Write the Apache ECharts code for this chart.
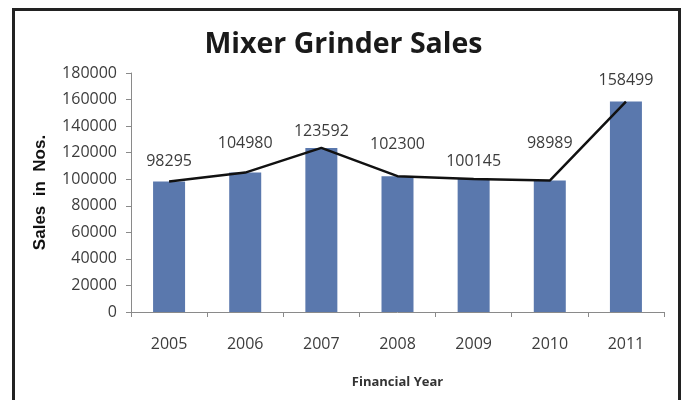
<!DOCTYPE html>
<html>
<head>
<meta charset="utf-8">
<script src="https://cdn.jsdelivr.net/npm/echarts@6/dist/echarts.min.js"></script>
<style>
  html, body { margin: 0; padding: 0; background: #fff; }
  #chart { width: 687px; height: 400px; }
</style>
</head>
<body>
<div id="chart"></div>
<script>
// Mixer grinder units sold per financial year
const years = ['2005', '2006', '2007', '2008', '2009', '2010', '2011'];
const sales = [98295, 104980, 123592, 102300, 100145, 98989, 158499];
const yTicks = [0, 20000, 40000, 60000, 80000, 100000, 120000, 140000, 160000, 180000];

// gap between each value label and its bar top, staggered so labels don't collide
const labelGaps = [12, 21, 8, 24, 10, 29, 13];

const tickFont = '"Open Sans", sans-serif';
const chart = echarts.init(document.getElementById('chart'), null, { renderer: 'canvas' });

chart.setOption({
  backgroundColor: '#ffffff',
  animation: false,
  title: {
    text: 'Mixer Grinder Sales',
    left: 'center',
    top: 25,
    textStyle: { fontFamily: '"Open Sans", sans-serif', fontWeight: 'bold', fontSize: 28.5, color: '#1a1a1a' }
  },
  graphic: [{
    type: 'rect',
    shape: { x: 13.5, y: 9.5, width: 666, height: 420 },
    style: { fill: 'none', stroke: '#222222', lineWidth: 3 },
    silent: true
  }],
  grid: { left: 131, right: 23, top: 73, bottom: 88, containLabel: false },
  xAxis: {
    type: 'category',
    data: years,
    boundaryGap: true,
    name: 'Financial Year',
    nameLocation: 'middle',
    nameGap: 64,
    nameTextStyle: { fontFamily: '"Open Sans", sans-serif', fontWeight: 'bold', fontSize: 13, color: '#333' },
    axisLine: { lineStyle: { color: '#8a8a8a', width: 1 } },
    axisTick: { show: true, length: 5, lineStyle: { color: '#8a8a8a' } },
    axisLabel: { margin: 24, fontFamily: tickFont, fontSize: 16, color: '#3c3c3c' }
  },
  yAxis: {
    type: 'value',
    min: yTicks[0],
    max: yTicks[yTicks.length - 1],
    interval: yTicks[1] - yTicks[0],
    name: 'Sales  in  Nos.',
    nameLocation: 'middle',
    nameGap: 82,
    nameRotate: 90,
    nameTextStyle: { fontFamily: '"Liberation Sans", Arial, sans-serif', fontWeight: 'bold', fontSize: 17, color: '#111' },
    splitLine: { show: false },
    axisLine: { show: true, lineStyle: { color: '#8a8a8a', width: 1 } },
    axisTick: { show: true, length: 5, lineStyle: { color: '#8a8a8a' } },
    axisLabel: {
      margin: 14,
      fontFamily: tickFont,
      fontSize: 16,
      color: '#3c3c3c',
      formatter: (v) => String(v)
    }
  },
  series: [
    {
      type: 'bar',
      data: sales.map((v, i) => ({
        value: v,
        label: { distance: labelGaps[i] }
      })),
      barWidth: 32,
      itemStyle: { color: '#5a78ad' },
      label: {
        show: true,
        position: 'top',
        fontFamily: tickFont,
        fontSize: 16,
        color: '#3c3c3c'
      },
      z: 1
    },
    {
      type: 'line',
      data: sales,
      symbol: 'none',
      lineStyle: { color: '#111111', width: 2.5 },
      z: 3
    }
  ]
});
</script>
</body>
</html>
